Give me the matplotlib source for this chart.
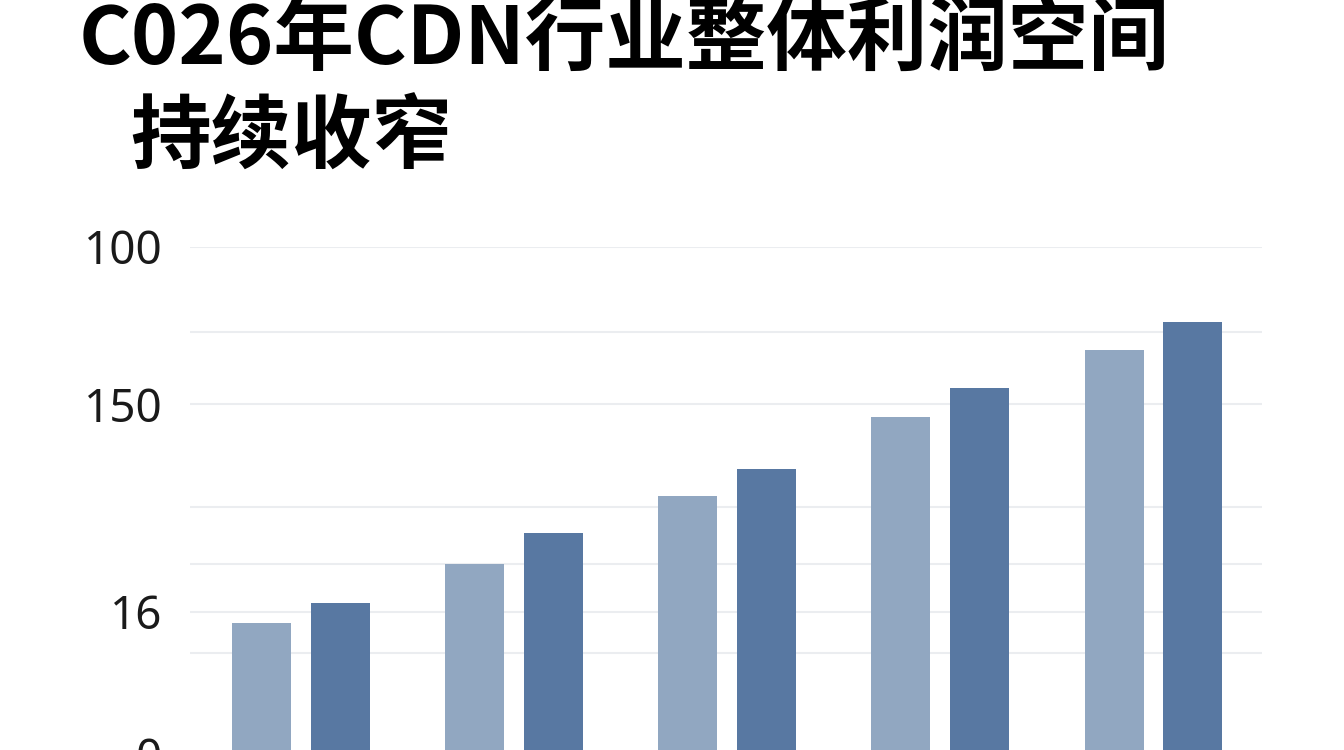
import matplotlib
matplotlib.use("Agg")
import matplotlib.pyplot as plt
import numpy as np

# ---- data (axis units are the chart's own vertical scale) ----
groups = ["G1", "G2", "G3", "G4", "G5"]
series_light = [25.9, 37.4, 50.8, 66.5, 79.6]
series_dark = [29.8, 43.5, 56.3, 72.2, 85.2]
ytick_values = [0, 28.1, 69.0, 100]
ytick_labels = ["0", "16", "150", "100"]
extra_grid_values = [20.0, 37.4, 48.8, 83.2]
title_line1 = "C026年CDN行业整体利润空间"
title_line2 = "持续收窄"

light_color = "#91a7c1"
dark_color = "#5878a2"

W, H = 1344, 750
fig = plt.figure(figsize=(W / 100, H / 100), dpi=100)
fig.patch.set_facecolor("white")

# axes spanning x 190..1262 px, y 247..754 px (bottom slightly below figure edge)
left, right = 190 / W, 1262 / W
top_px, bot_px = 247, 754
ax = fig.add_axes([left, (H - bot_px) / H, right - left, (bot_px - top_px) / H])
ax.set_facecolor("none")

x = np.arange(len(groups))
off = 0.184
bw = 0.277
ax.bar(x - off, series_light, width=bw, color=light_color, zorder=3)
ax.bar(x + off, series_dark, width=bw, color=dark_color, zorder=3)

ax.set_xlim(-0.52, 4.51)
ax.set_ylim(0, 100)

ax.set_yticks(ytick_values)
ax.set_yticklabels(ytick_labels)
ax.set_yticks(extra_grid_values, minor=True)
ax.grid(axis="y", which="both", color="#ebedf0", linewidth=1.5, zorder=0)
ax.grid(axis="x", visible=False)
ax.set_xticks([])
ax.tick_params(axis="y", which="both", length=0, pad=20, labelsize=33,
               labelcolor="#1a1a1a")
for lab in ax.get_yticklabels():
    lab.set_fontfamily(["Noto Sans", "DejaVu Sans"])
for s in ax.spines.values():
    s.set_visible(False)

tfam = ["Noto Sans CJK SC", "DejaVu Sans"]
fig.text(79 / W, 1 - 41 / H, title_line1, fontsize=58, fontweight="black",
         family=tfam, color="#000000", va="center", ha="left")
fig.text(130 / W, 1 - 139 / H, title_line2, fontsize=58, fontweight="black",
         family=tfam, color="#000000", va="center", ha="left")

fig.savefig("out.png", dpi=100, facecolor="white")
